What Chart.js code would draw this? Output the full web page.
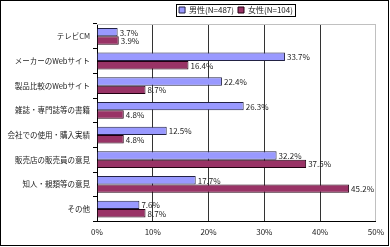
<!DOCTYPE html>
<html>
<head>
<meta charset="utf-8">
<script src="https://cdn.jsdelivr.net/npm/chart.js@4"></script>
<style>
  html, body { margin: 0; padding: 0; background: #fff; }
  #wrap { width: 390px; height: 247px; position: relative; }
</style>
</head>
<body>
<div id="wrap"><canvas id="bar_chart"></canvas></div>
<script>
/* global Chart */
const categories = ['テレビCM', 'メーカーのWebサイト', '製品比較のWebサイト', '雑誌・専門誌等の書籍',
  '会社での使用・購入実績', '販売店の販売員の意見', '知人・親類等の意見', 'その他'];
const maleValues = [3.7, 33.7, 22.4, 26.3, 12.5, 32.2, 17.7, 7.6];
const femaleValues = [3.9, 16.4, 8.7, 4.8, 4.8, 37.5, 45.2, 8.7];
const seriesNames = ['男性(N=487)', '女性(N=104)'];
const xTicks = [0, 10, 20, 30, 40, 50];

const font = "'Noto Sans CJK JP', 'DejaVu Sans', sans-serif";
const legendShift = 42;

// value labels at bar ends, plus legend frame, plot border and outer frame
const extras = {
  id: 'extras',
  afterLayout(chart) {
    const lg = chart.legend;
    lg.left += legendShift;
    lg.right += legendShift;
  },
  afterDatasetsDraw(chart) {
    const c = chart.ctx;
    c.save();
    c.font = '8px ' + font;
    c.fillStyle = '#222';
    c.textBaseline = 'middle';
    c.textAlign = 'left';
    chart.data.datasets.forEach((ds, i) => {
      chart.getDatasetMeta(i).data.forEach((bar, j) => {
        c.fillText(ds.data[j].toFixed(1) + '%', bar.x + 2, bar.y + 0.5);
      });
    });
    c.restore();
  },
  afterDraw(chart) {
    const c = chart.ctx;
    const a = chart.chartArea;
    c.save();
    c.lineWidth = 1;
    // light top border of plot area
    c.strokeStyle = '#c0c0c0';
    c.beginPath();
    c.moveTo(a.left, Math.round(a.top) + 0.5);
    c.lineTo(a.right, Math.round(a.top) + 0.5);
    c.stroke();
    c.strokeStyle = '#000';
    const boxes = chart.legend.legendHitBoxes;
    if (boxes && boxes.length) {
      const x0 = Math.min(...boxes.map(b => b.left)) - 3;
      const x1 = Math.max(...boxes.map(b => b.left + b.width)) + 2;
      const y0 = boxes[0].top - 2;
      const y1 = boxes[0].top + boxes[0].height + 2;
      c.strokeRect(Math.round(x0) + 0.5, Math.round(y0) + 0.5, Math.round(x1 - x0), Math.round(y1 - y0));
    }
    c.strokeRect(0.5, 0.5, chart.width - 2, chart.height - 2);
    c.restore();
  }
};

const ctx = document.getElementById('bar_chart').getContext('2d');
new Chart(ctx, {
  type: 'bar',
  data: {
    labels: categories,
    datasets: [{
      label: seriesNames[0],
      data: maleValues,
      backgroundColor: '#9999ff',
      borderColor: '#222244',
      borderWidth: 1
    }, {
      label: seriesNames[1],
      data: femaleValues,
      backgroundColor: '#993366',
      borderColor: '#220011',
      borderWidth: 1
    }]
  },
  options: {
    indexAxis: 'y',
    responsive: true,
    maintainAspectRatio: false,
    animation: false,
    categoryPercentage: 0.68,
    barPercentage: 1,
    layout: { padding: { left: 4, right: 6, top: 2, bottom: 4 } },
    plugins: {
      legend: {
        position: 'top',
        labels: {
          font: { family: font, size: 8 },
          color: '#222',
          boxWidth: 6,
          boxHeight: 6,
          padding: 4
        }
      },
      tooltip: { enabled: false }
    },
    scales: {
      x: {
        min: 0,
        max: 50,
        afterBuildTicks(scale) {
          scale.ticks = xTicks.map(v => ({ value: v }));
        },
        ticks: {
          font: { family: font, size: 8 },
          color: '#222',
          padding: 6,
          callback: v => v + '%'
        },
        grid: {
          color: ctx2 => (ctx2.tick && ctx2.tick.value === 50 ? '#c0c0c0' : '#333'),
          drawTicks: false
        },
        border: { color: '#000' }
      },
      y: {
        afterFit(scale) { scale.width = 93; },
        ticks: {
          font: { family: font, size: 7.5 },
          color: '#222',
          padding: 3
        },
        grid: {
          offset: true,
          drawOnChartArea: false,
          tickLength: 4,
          color: '#000'
        },
        border: { color: '#000' }
      }
    }
  },
  plugins: [extras]
});
</script>
</body>
</html>
